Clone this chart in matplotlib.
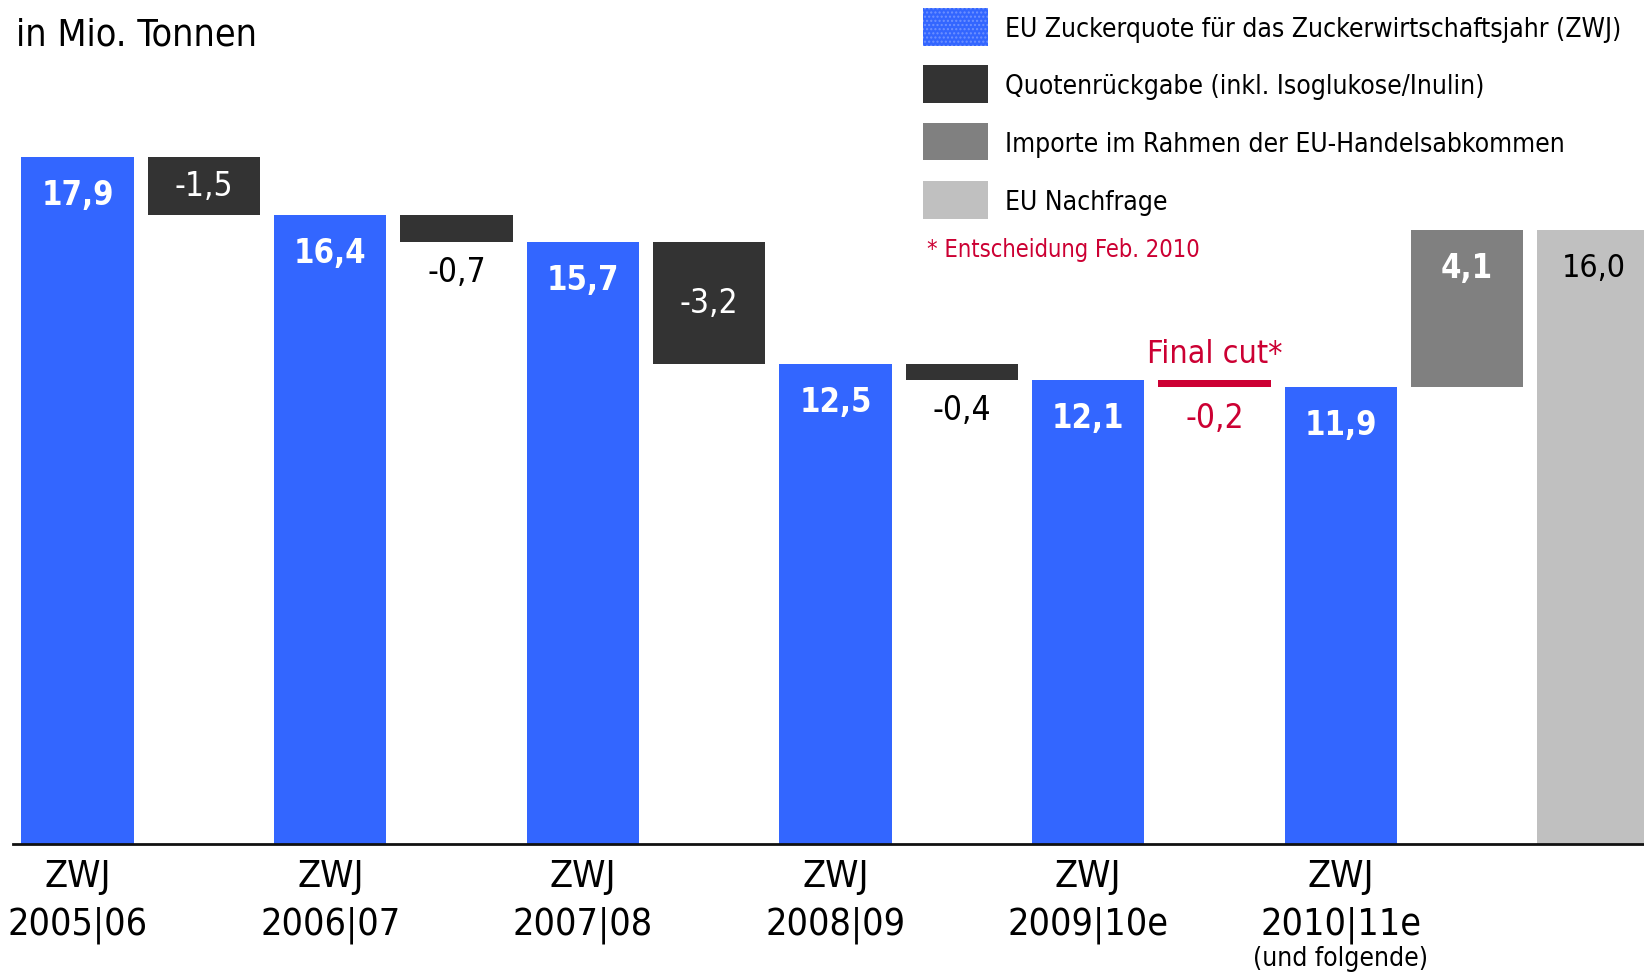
import matplotlib.pyplot as plt
from matplotlib.patches import Rectangle

plt.rcParams['font.family'] = ['DejaVu Sans']
plt.rcParams['font.stretch'] = 'condensed'
plt.rcParams['hatch.linewidth'] = 1.0

# EU Zuckerquote je ZWJ (Mio. t)
years = ["ZWJ\n2005|06", "ZWJ\n2006|07", "ZWJ\n2007|08",
         "ZWJ\n2008|09", "ZWJ\n2009|10e", "ZWJ\n2010|11e"]
quota = [17.9, 16.4, 15.7, 12.5, 12.1, 11.9]
quota_labels = ["17,9", "16,4", "15,7", "12,5", "12,1", "11,9"]
# Quotenrueckgabe zwischen den Jahren
cuts = [-1.5, -0.7, -3.2, -0.4, -0.2]
cut_labels = ["-1,5", "-0,7", "-3,2", "-0,4", "-0,2"]
imports = 4.1
demand = 16.0

BLUE = "#3366FF"
DARK = "#333333"
GREY = "#808080"
LIGHT = "#C0C0C0"
RED = "#CC0033"

W, H = 1568, 928  # reference layout coords
fig = plt.figure(figsize=(16.44, 9.73), dpi=100)
ax = fig.add_axes([12 / W, 1 - 805 / H, 1 - 12 / W, 805 / H])
ax.set_xlim(-0.515, 12.40)
ax.set_ylim(0, 22.0)

bw = 0.89
qx = [2 * i for i in range(len(quota))]
cx = [2 * i + 1 for i in range(len(cuts))]

ax.bar(qx, quota, width=bw, color=BLUE)
for i, v in enumerate(quota):
    ax.text(qx[i], v - 1.0, quota_labels[i], ha="center", va="center",
            color="white", fontsize=23.5, fontweight="bold")

for i, c in enumerate(cuts):
    top = quota[i]
    col = RED if i == len(cuts) - 1 else DARK
    ax.bar(cx[i], -c, bottom=top + c, width=bw, color=col)
    if abs(c) >= 1:
        ax.text(cx[i], top + c / 2, cut_labels[i], ha="center", va="center",
                color="white", fontsize=24)
    else:
        ax.text(cx[i], top + c - 0.8, cut_labels[i], ha="center", va="center",
                color=col if col == RED else "black", fontsize=24)

ax.text(cx[-1], quota[-2] + 0.65, "Final cut*", ha="center", va="center",
        color=RED, fontsize=23)

ax.bar(11, imports, bottom=quota[-1], width=bw, color=GREY)
ax.text(11, quota[-1] + imports - 1.0, "4,1", ha="center", va="center",
        color="white", fontsize=23.5, fontweight="bold")
ax.bar(12, demand, width=bw, color=LIGHT)
ax.text(12, demand - 1.0, "16,0", ha="center", va="center",
        color="black", fontsize=23)

ax.set_xticks(qx)
ax.set_xticklabels(years, fontsize=27, linespacing=1.4)
ax.tick_params(axis="x", length=0, pad=11)
ax.set_yticks([])
for s in ["top", "right", "left"]:
    ax.spines[s].set_visible(False)
ax.spines["bottom"].set_linewidth(2)
ax.spines["bottom"].set_color("#111111")

ax.text(qx[-1], -3.0, "(und folgende)", ha="center", va="center",
        fontsize=19, transform=ax.transData, clip_on=False)

fig.text(15 / W, 1 - 34 / H, "in Mio. Tonnen", ha="left", va="center",
         fontsize=27)

# legend
legend_items = [
    ("EU Zuckerquote für das Zuckerwirtschaftsjahr (ZWJ)", BLUE),
    ("Quotenrückgabe (inkl. Isoglukose/Inulin)", DARK),
    ("Importe im Rahmen der EU-Handelsabkommen", GREY),
    ("EU Nachfrage", LIGHT),
]
tops = [8, 62, 117, 173]
for (lab, col), t in zip(legend_items, tops):
    kw = {}
    if col == BLUE:
        kw = dict(hatch="....", edgecolor="#6F92FF", linewidth=0)
    else:
        kw = dict(edgecolor="none")
    fig.add_artist(Rectangle((880 / W, 1 - (t + 36) / H), 62 / W, 36 / H,
                             facecolor=col, transform=fig.transFigure, **kw))
    fig.text(959 / W, 1 - (t + 21) / H, lab, ha="left", va="center",
             fontsize=19)

fig.text(884 / W, 1 - 238 / H, "* Entscheidung Feb. 2010", ha="left",
         va="center", fontsize=17, color=RED)

fig.savefig("out.png", dpi=100)
